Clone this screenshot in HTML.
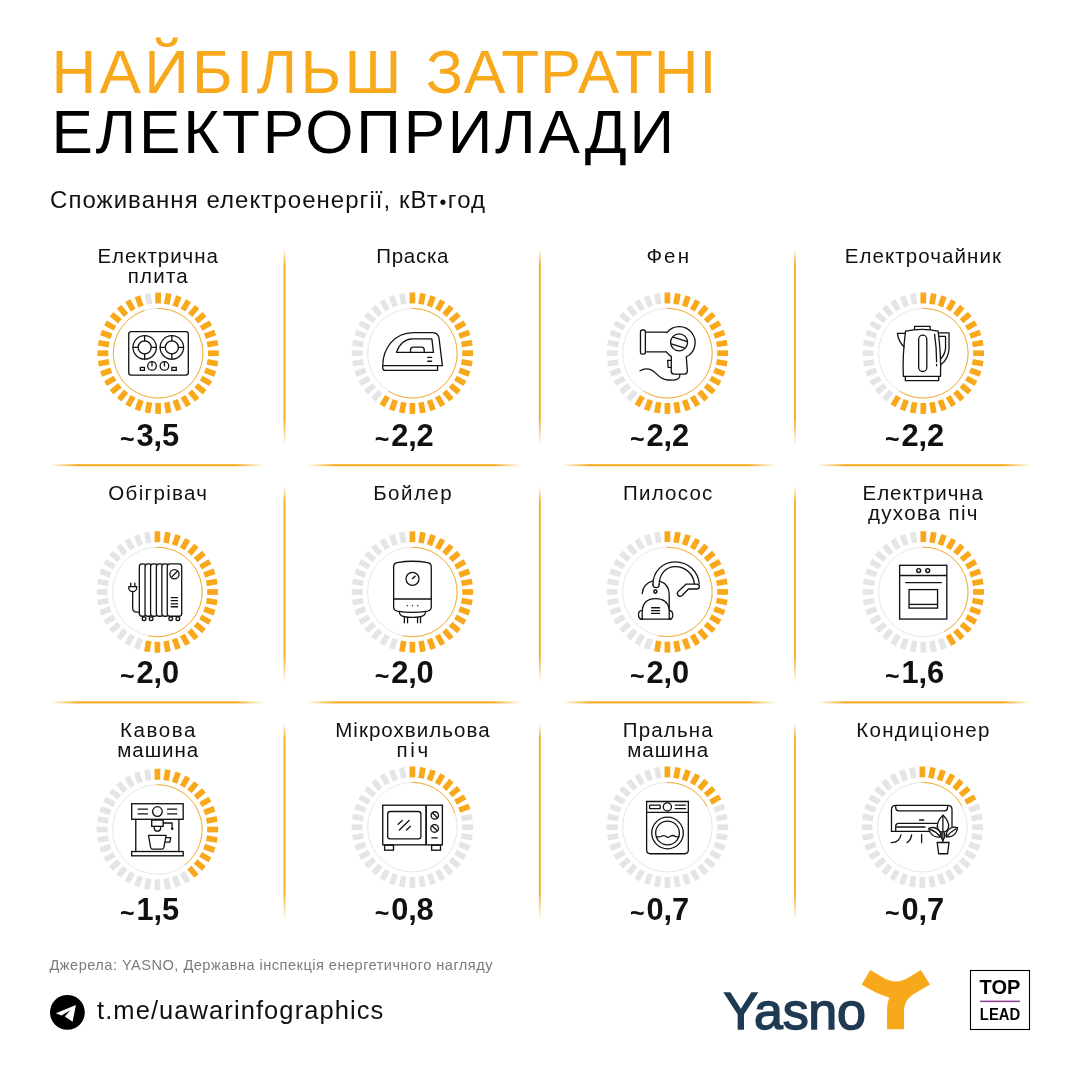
<!DOCTYPE html>
<html lang="uk"><head><meta charset="utf-8"><title>Найбільш затратні електроприлади</title>
<style>
html,body{margin:0;padding:0;background:#fff}
body{width:1080px;height:1080px;position:relative;overflow:hidden;font-family:"Liberation Sans",sans-serif;color:#111}
.t{position:absolute;white-space:nowrap;line-height:1}
.h1{left:51.5px;font-size:62px;letter-spacing:2.3px}
.sub{left:50px;top:188.3px;font-size:24px;letter-spacing:1.05px}
.lb{position:absolute;width:240px;text-align:center;font-size:20.5px;line-height:20px;letter-spacing:1px;white-space:nowrap}
.v{position:absolute;width:120px;text-align:center;font-weight:700;font-size:30.8px;line-height:30px;letter-spacing:-0.1px}
.v i{position:absolute;font-style:normal;font-size:25px;left:22.3px;top:3.2px;letter-spacing:0}
.src{left:49.5px;top:957.5px;font-size:14.6px;color:#7c7c7c;letter-spacing:0.47px}
.tg{left:97px;top:998px;font-size:25.5px;letter-spacing:1.08px;color:#111}
.ya{left:723.5px;top:985px;font-size:52px;font-weight:400;color:#1f3a52;letter-spacing:-0.3px;-webkit-text-stroke:1.5px #1f3a52}
.tl{position:absolute;left:970px;width:60px;text-align:center;font-weight:700;line-height:1;color:#000}
</style></head><body>

<svg width="1080" height="1080" viewBox="0 0 1080 1080" style="position:absolute;left:0;top:0">
<defs>
<linearGradient id="gv" x1="0" y1="0" x2="0" y2="1"><stop offset="0" stop-color="#f8a81b" stop-opacity="0"/><stop offset="0.08" stop-color="#f8a81b"/><stop offset="0.86" stop-color="#f8a81b"/><stop offset="1" stop-color="#f8a81b" stop-opacity="0"/></linearGradient>
<linearGradient id="gh" x1="0" y1="0" x2="1" y2="0"><stop offset="0" stop-color="#f8a81b" stop-opacity="0"/><stop offset="0.13" stop-color="#f8a81b"/><stop offset="0.87" stop-color="#f8a81b"/><stop offset="1" stop-color="#f8a81b" stop-opacity="0"/></linearGradient>
</defs>
<rect x="283.6" y="249" width="1.8" height="197" fill="url(#gv)"/>
<rect x="283.6" y="486" width="1.8" height="197" fill="url(#gv)"/>
<rect x="283.6" y="723" width="1.8" height="197" fill="url(#gv)"/>
<rect x="538.9" y="249" width="1.8" height="197" fill="url(#gv)"/>
<rect x="538.9" y="486" width="1.8" height="197" fill="url(#gv)"/>
<rect x="538.9" y="723" width="1.8" height="197" fill="url(#gv)"/>
<rect x="794.1" y="249" width="1.8" height="197" fill="url(#gv)"/>
<rect x="794.1" y="486" width="1.8" height="197" fill="url(#gv)"/>
<rect x="794.1" y="723" width="1.8" height="197" fill="url(#gv)"/>
<rect x="50" y="464.2" width="214" height="2" fill="url(#gh)"/>
<rect x="307" y="464.2" width="214" height="2" fill="url(#gh)"/>
<rect x="562" y="464.2" width="214" height="2" fill="url(#gh)"/>
<rect x="817" y="464.2" width="214" height="2" fill="url(#gh)"/>
<rect x="50" y="701.4" width="214" height="2" fill="url(#gh)"/>
<rect x="307" y="701.4" width="214" height="2" fill="url(#gh)"/>
<rect x="562" y="701.4" width="214" height="2" fill="url(#gh)"/>
<rect x="817" y="701.4" width="214" height="2" fill="url(#gh)"/>
<rect x="155.25" y="292.55" width="5.7" height="10.90" fill="#f8a81b" transform="rotate(0 158.1 353.25)"/>
<rect x="155.25" y="292.55" width="5.7" height="10.90" fill="#f8a81b" transform="rotate(10 158.1 353.25)"/>
<rect x="155.25" y="292.55" width="5.7" height="10.90" fill="#f8a81b" transform="rotate(20 158.1 353.25)"/>
<rect x="155.25" y="292.55" width="5.7" height="10.90" fill="#f8a81b" transform="rotate(30 158.1 353.25)"/>
<rect x="155.25" y="292.55" width="5.7" height="10.90" fill="#f8a81b" transform="rotate(40 158.1 353.25)"/>
<rect x="155.25" y="292.55" width="5.7" height="10.90" fill="#f8a81b" transform="rotate(50 158.1 353.25)"/>
<rect x="155.25" y="292.55" width="5.7" height="10.90" fill="#f8a81b" transform="rotate(60 158.1 353.25)"/>
<rect x="155.25" y="292.55" width="5.7" height="10.90" fill="#f8a81b" transform="rotate(70 158.1 353.25)"/>
<rect x="155.25" y="292.55" width="5.7" height="10.90" fill="#f8a81b" transform="rotate(80 158.1 353.25)"/>
<rect x="155.25" y="292.55" width="5.7" height="10.90" fill="#f8a81b" transform="rotate(90 158.1 353.25)"/>
<rect x="155.25" y="292.55" width="5.7" height="10.90" fill="#f8a81b" transform="rotate(100 158.1 353.25)"/>
<rect x="155.25" y="292.55" width="5.7" height="10.90" fill="#f8a81b" transform="rotate(110 158.1 353.25)"/>
<rect x="155.25" y="292.55" width="5.7" height="10.90" fill="#f8a81b" transform="rotate(120 158.1 353.25)"/>
<rect x="155.25" y="292.55" width="5.7" height="10.90" fill="#f8a81b" transform="rotate(130 158.1 353.25)"/>
<rect x="155.25" y="292.55" width="5.7" height="10.90" fill="#f8a81b" transform="rotate(140 158.1 353.25)"/>
<rect x="155.25" y="292.55" width="5.7" height="10.90" fill="#f8a81b" transform="rotate(150 158.1 353.25)"/>
<rect x="155.25" y="292.55" width="5.7" height="10.90" fill="#f8a81b" transform="rotate(160 158.1 353.25)"/>
<rect x="155.25" y="292.55" width="5.7" height="10.90" fill="#f8a81b" transform="rotate(170 158.1 353.25)"/>
<rect x="155.25" y="292.55" width="5.7" height="10.90" fill="#f8a81b" transform="rotate(180 158.1 353.25)"/>
<rect x="155.25" y="292.55" width="5.7" height="10.90" fill="#f8a81b" transform="rotate(190 158.1 353.25)"/>
<rect x="155.25" y="292.55" width="5.7" height="10.90" fill="#f8a81b" transform="rotate(200 158.1 353.25)"/>
<rect x="155.25" y="292.55" width="5.7" height="10.90" fill="#f8a81b" transform="rotate(210 158.1 353.25)"/>
<rect x="155.25" y="292.55" width="5.7" height="10.90" fill="#f8a81b" transform="rotate(220 158.1 353.25)"/>
<rect x="155.25" y="292.55" width="5.7" height="10.90" fill="#f8a81b" transform="rotate(230 158.1 353.25)"/>
<rect x="155.25" y="292.55" width="5.7" height="10.90" fill="#f8a81b" transform="rotate(240 158.1 353.25)"/>
<rect x="155.25" y="292.55" width="5.7" height="10.90" fill="#f8a81b" transform="rotate(250 158.1 353.25)"/>
<rect x="155.25" y="292.55" width="5.7" height="10.90" fill="#f8a81b" transform="rotate(260 158.1 353.25)"/>
<rect x="155.25" y="292.55" width="5.7" height="10.90" fill="#f8a81b" transform="rotate(270 158.1 353.25)"/>
<rect x="155.25" y="292.55" width="5.7" height="10.90" fill="#f8a81b" transform="rotate(280 158.1 353.25)"/>
<rect x="155.25" y="292.55" width="5.7" height="10.90" fill="#f8a81b" transform="rotate(290 158.1 353.25)"/>
<rect x="155.25" y="292.55" width="5.7" height="10.90" fill="#f8a81b" transform="rotate(300 158.1 353.25)"/>
<rect x="155.25" y="292.55" width="5.7" height="10.90" fill="#f8a81b" transform="rotate(310 158.1 353.25)"/>
<rect x="155.25" y="292.55" width="5.7" height="10.90" fill="#f8a81b" transform="rotate(320 158.1 353.25)"/>
<rect x="155.25" y="292.55" width="5.7" height="10.90" fill="#f8a81b" transform="rotate(330 158.1 353.25)"/>
<rect x="155.25" y="292.55" width="5.7" height="10.90" fill="#f8a81b" transform="rotate(340 158.1 353.25)"/>
<rect x="155.25" y="292.55" width="5.7" height="10.90" fill="#e5e5e5" transform="rotate(350 158.1 353.25)"/>
<circle cx="158.1" cy="353.25" r="44.8" fill="none" stroke="#e3e3e3" stroke-width="0.9"/>
<path d="M157.32,308.46 A44.8,44.8 0 1 1 144.26,310.64" fill="none" stroke="#f8a81b" stroke-width="0.9"/>
<svg x="120" y="320" width="80" height="70" viewBox="0 0 1080 945" fill="none" stroke="#111" stroke-width="17.5" stroke-linecap="round" stroke-linejoin="round"><!-- stove -->
<rect x="118" y="158" width="804" height="585" rx="35"/>
<circle cx="333" cy="370" r="158"/><circle cx="333" cy="370" r="88"/>
<path d="M333,212V282M333,458V528M175,370H245M421,370H491"/>
<circle cx="700" cy="370" r="158"/><circle cx="700" cy="370" r="88"/>
<path d="M700,212V282M700,458V528M542,370H612M788,370H858"/>
<circle cx="432" cy="620" r="58"/><circle cx="600" cy="620" r="58"/>
<path d="M432,570V620M600,570V620"/>
<rect x="275" y="640" width="55" height="40" stroke-linejoin="miter"/><rect x="700" y="640" width="60" height="40" stroke-linejoin="miter"/>
</svg>
<rect x="409.55" y="292.50" width="5.7" height="10.90" fill="#f8a81b" transform="rotate(0 412.4 353.2)"/>
<rect x="409.55" y="292.50" width="5.7" height="10.90" fill="#f8a81b" transform="rotate(10 412.4 353.2)"/>
<rect x="409.55" y="292.50" width="5.7" height="10.90" fill="#f8a81b" transform="rotate(20 412.4 353.2)"/>
<rect x="409.55" y="292.50" width="5.7" height="10.90" fill="#f8a81b" transform="rotate(30 412.4 353.2)"/>
<rect x="409.55" y="292.50" width="5.7" height="10.90" fill="#f8a81b" transform="rotate(40 412.4 353.2)"/>
<rect x="409.55" y="292.50" width="5.7" height="10.90" fill="#f8a81b" transform="rotate(50 412.4 353.2)"/>
<rect x="409.55" y="292.50" width="5.7" height="10.90" fill="#f8a81b" transform="rotate(60 412.4 353.2)"/>
<rect x="409.55" y="292.50" width="5.7" height="10.90" fill="#f8a81b" transform="rotate(70 412.4 353.2)"/>
<rect x="409.55" y="292.50" width="5.7" height="10.90" fill="#f8a81b" transform="rotate(80 412.4 353.2)"/>
<rect x="409.55" y="292.50" width="5.7" height="10.90" fill="#f8a81b" transform="rotate(90 412.4 353.2)"/>
<rect x="409.55" y="292.50" width="5.7" height="10.90" fill="#f8a81b" transform="rotate(100 412.4 353.2)"/>
<rect x="409.55" y="292.50" width="5.7" height="10.90" fill="#f8a81b" transform="rotate(110 412.4 353.2)"/>
<rect x="409.55" y="292.50" width="5.7" height="10.90" fill="#f8a81b" transform="rotate(120 412.4 353.2)"/>
<rect x="409.55" y="292.50" width="5.7" height="10.90" fill="#f8a81b" transform="rotate(130 412.4 353.2)"/>
<rect x="409.55" y="292.50" width="5.7" height="10.90" fill="#f8a81b" transform="rotate(140 412.4 353.2)"/>
<rect x="409.55" y="292.50" width="5.7" height="10.90" fill="#f8a81b" transform="rotate(150 412.4 353.2)"/>
<rect x="409.55" y="292.50" width="5.7" height="10.90" fill="#f8a81b" transform="rotate(160 412.4 353.2)"/>
<rect x="409.55" y="292.50" width="5.7" height="10.90" fill="#f8a81b" transform="rotate(170 412.4 353.2)"/>
<rect x="409.55" y="292.50" width="5.7" height="10.90" fill="#f8a81b" transform="rotate(180 412.4 353.2)"/>
<rect x="409.55" y="292.50" width="5.7" height="10.90" fill="#f8a81b" transform="rotate(190 412.4 353.2)"/>
<rect x="409.55" y="292.50" width="5.7" height="10.90" fill="#f8a81b" transform="rotate(200 412.4 353.2)"/>
<rect x="409.55" y="292.50" width="5.7" height="10.90" fill="#f8a81b" transform="rotate(210 412.4 353.2)"/>
<rect x="409.55" y="292.50" width="5.7" height="10.90" fill="#e5e5e5" transform="rotate(220 412.4 353.2)"/>
<rect x="409.55" y="292.50" width="5.7" height="10.90" fill="#e5e5e5" transform="rotate(230 412.4 353.2)"/>
<rect x="409.55" y="292.50" width="5.7" height="10.90" fill="#e5e5e5" transform="rotate(240 412.4 353.2)"/>
<rect x="409.55" y="292.50" width="5.7" height="10.90" fill="#e5e5e5" transform="rotate(250 412.4 353.2)"/>
<rect x="409.55" y="292.50" width="5.7" height="10.90" fill="#e5e5e5" transform="rotate(260 412.4 353.2)"/>
<rect x="409.55" y="292.50" width="5.7" height="10.90" fill="#e5e5e5" transform="rotate(270 412.4 353.2)"/>
<rect x="409.55" y="292.50" width="5.7" height="10.90" fill="#e5e5e5" transform="rotate(280 412.4 353.2)"/>
<rect x="409.55" y="292.50" width="5.7" height="10.90" fill="#e5e5e5" transform="rotate(290 412.4 353.2)"/>
<rect x="409.55" y="292.50" width="5.7" height="10.90" fill="#e5e5e5" transform="rotate(300 412.4 353.2)"/>
<rect x="409.55" y="292.50" width="5.7" height="10.90" fill="#e5e5e5" transform="rotate(310 412.4 353.2)"/>
<rect x="409.55" y="292.50" width="5.7" height="10.90" fill="#e5e5e5" transform="rotate(320 412.4 353.2)"/>
<rect x="409.55" y="292.50" width="5.7" height="10.90" fill="#e5e5e5" transform="rotate(330 412.4 353.2)"/>
<rect x="409.55" y="292.50" width="5.7" height="10.90" fill="#e5e5e5" transform="rotate(340 412.4 353.2)"/>
<rect x="409.55" y="292.50" width="5.7" height="10.90" fill="#e5e5e5" transform="rotate(350 412.4 353.2)"/>
<circle cx="412.4" cy="353.2" r="44.8" fill="none" stroke="#e3e3e3" stroke-width="0.9"/>
<path d="M411.62,308.41 A44.8,44.8 0 1 1 388.66,391.19" fill="none" stroke="#f8a81b" stroke-width="0.9"/>
<svg x="372" y="320" width="80" height="70" viewBox="0 0 1080 945" fill="none" stroke="#111" stroke-width="17.5" stroke-linecap="round" stroke-linejoin="round">
<!-- iron -->
<path d="M145,612 C148,390 290,172 560,170 H820 Q895,175 905,245 L950,615 H145 V650 Q148,680 175,680 H885 V618"/>
<path d="M330,437 Q390,262 545,255 H808 L830,437 Z"/>
<path d="M520,435 V400 Q522,365 555,365 H670 Q703,365 705,400 V435"/>
<path d="M752,505H805M752,557H805"/>
</svg>
<rect x="664.55" y="292.50" width="5.7" height="10.90" fill="#f8a81b" transform="rotate(0 667.4 353.2)"/>
<rect x="664.55" y="292.50" width="5.7" height="10.90" fill="#f8a81b" transform="rotate(10 667.4 353.2)"/>
<rect x="664.55" y="292.50" width="5.7" height="10.90" fill="#f8a81b" transform="rotate(20 667.4 353.2)"/>
<rect x="664.55" y="292.50" width="5.7" height="10.90" fill="#f8a81b" transform="rotate(30 667.4 353.2)"/>
<rect x="664.55" y="292.50" width="5.7" height="10.90" fill="#f8a81b" transform="rotate(40 667.4 353.2)"/>
<rect x="664.55" y="292.50" width="5.7" height="10.90" fill="#f8a81b" transform="rotate(50 667.4 353.2)"/>
<rect x="664.55" y="292.50" width="5.7" height="10.90" fill="#f8a81b" transform="rotate(60 667.4 353.2)"/>
<rect x="664.55" y="292.50" width="5.7" height="10.90" fill="#f8a81b" transform="rotate(70 667.4 353.2)"/>
<rect x="664.55" y="292.50" width="5.7" height="10.90" fill="#f8a81b" transform="rotate(80 667.4 353.2)"/>
<rect x="664.55" y="292.50" width="5.7" height="10.90" fill="#f8a81b" transform="rotate(90 667.4 353.2)"/>
<rect x="664.55" y="292.50" width="5.7" height="10.90" fill="#f8a81b" transform="rotate(100 667.4 353.2)"/>
<rect x="664.55" y="292.50" width="5.7" height="10.90" fill="#f8a81b" transform="rotate(110 667.4 353.2)"/>
<rect x="664.55" y="292.50" width="5.7" height="10.90" fill="#f8a81b" transform="rotate(120 667.4 353.2)"/>
<rect x="664.55" y="292.50" width="5.7" height="10.90" fill="#f8a81b" transform="rotate(130 667.4 353.2)"/>
<rect x="664.55" y="292.50" width="5.7" height="10.90" fill="#f8a81b" transform="rotate(140 667.4 353.2)"/>
<rect x="664.55" y="292.50" width="5.7" height="10.90" fill="#f8a81b" transform="rotate(150 667.4 353.2)"/>
<rect x="664.55" y="292.50" width="5.7" height="10.90" fill="#f8a81b" transform="rotate(160 667.4 353.2)"/>
<rect x="664.55" y="292.50" width="5.7" height="10.90" fill="#f8a81b" transform="rotate(170 667.4 353.2)"/>
<rect x="664.55" y="292.50" width="5.7" height="10.90" fill="#f8a81b" transform="rotate(180 667.4 353.2)"/>
<rect x="664.55" y="292.50" width="5.7" height="10.90" fill="#f8a81b" transform="rotate(190 667.4 353.2)"/>
<rect x="664.55" y="292.50" width="5.7" height="10.90" fill="#f8a81b" transform="rotate(200 667.4 353.2)"/>
<rect x="664.55" y="292.50" width="5.7" height="10.90" fill="#f8a81b" transform="rotate(210 667.4 353.2)"/>
<rect x="664.55" y="292.50" width="5.7" height="10.90" fill="#e5e5e5" transform="rotate(220 667.4 353.2)"/>
<rect x="664.55" y="292.50" width="5.7" height="10.90" fill="#e5e5e5" transform="rotate(230 667.4 353.2)"/>
<rect x="664.55" y="292.50" width="5.7" height="10.90" fill="#e5e5e5" transform="rotate(240 667.4 353.2)"/>
<rect x="664.55" y="292.50" width="5.7" height="10.90" fill="#e5e5e5" transform="rotate(250 667.4 353.2)"/>
<rect x="664.55" y="292.50" width="5.7" height="10.90" fill="#e5e5e5" transform="rotate(260 667.4 353.2)"/>
<rect x="664.55" y="292.50" width="5.7" height="10.90" fill="#e5e5e5" transform="rotate(270 667.4 353.2)"/>
<rect x="664.55" y="292.50" width="5.7" height="10.90" fill="#e5e5e5" transform="rotate(280 667.4 353.2)"/>
<rect x="664.55" y="292.50" width="5.7" height="10.90" fill="#e5e5e5" transform="rotate(290 667.4 353.2)"/>
<rect x="664.55" y="292.50" width="5.7" height="10.90" fill="#e5e5e5" transform="rotate(300 667.4 353.2)"/>
<rect x="664.55" y="292.50" width="5.7" height="10.90" fill="#e5e5e5" transform="rotate(310 667.4 353.2)"/>
<rect x="664.55" y="292.50" width="5.7" height="10.90" fill="#e5e5e5" transform="rotate(320 667.4 353.2)"/>
<rect x="664.55" y="292.50" width="5.7" height="10.90" fill="#e5e5e5" transform="rotate(330 667.4 353.2)"/>
<rect x="664.55" y="292.50" width="5.7" height="10.90" fill="#e5e5e5" transform="rotate(340 667.4 353.2)"/>
<rect x="664.55" y="292.50" width="5.7" height="10.90" fill="#e5e5e5" transform="rotate(350 667.4 353.2)"/>
<circle cx="667.4" cy="353.2" r="44.8" fill="none" stroke="#e3e3e3" stroke-width="0.9"/>
<path d="M666.62,308.41 A44.8,44.8 0 1 1 643.66,391.19" fill="none" stroke="#f8a81b" stroke-width="0.9"/>
<svg x="627" y="320" width="80" height="70" viewBox="0 0 1080 945" fill="none" stroke="#111" stroke-width="17.5" stroke-linecap="round" stroke-linejoin="round">
<!-- hair dryer -->
<rect x="182" y="135" width="66" height="325" rx="25"/>
<path d="M258,165 H520 L537.7,170 A215,215 0 1 1 800,498 L815,690 Q815,730 775,730 H635 Q598,730 597,690 L598,491.5 A215,215 0 0 1 528,427 L520,430 H262"/>
<circle cx="703" cy="302" r="115"/>
<path d="M622,232L805,290M598,322L772,376"/>
<path d="M598,545 H548 L556,640 H598"/>
<path d="M175,685 C260,635 325,650 400,730 S540,812 620,812 C690,805 718,785 713,737"/>
</svg>
<rect x="920.45" y="292.50" width="5.7" height="10.90" fill="#f8a81b" transform="rotate(0 923.3 353.2)"/>
<rect x="920.45" y="292.50" width="5.7" height="10.90" fill="#f8a81b" transform="rotate(10 923.3 353.2)"/>
<rect x="920.45" y="292.50" width="5.7" height="10.90" fill="#f8a81b" transform="rotate(20 923.3 353.2)"/>
<rect x="920.45" y="292.50" width="5.7" height="10.90" fill="#f8a81b" transform="rotate(30 923.3 353.2)"/>
<rect x="920.45" y="292.50" width="5.7" height="10.90" fill="#f8a81b" transform="rotate(40 923.3 353.2)"/>
<rect x="920.45" y="292.50" width="5.7" height="10.90" fill="#f8a81b" transform="rotate(50 923.3 353.2)"/>
<rect x="920.45" y="292.50" width="5.7" height="10.90" fill="#f8a81b" transform="rotate(60 923.3 353.2)"/>
<rect x="920.45" y="292.50" width="5.7" height="10.90" fill="#f8a81b" transform="rotate(70 923.3 353.2)"/>
<rect x="920.45" y="292.50" width="5.7" height="10.90" fill="#f8a81b" transform="rotate(80 923.3 353.2)"/>
<rect x="920.45" y="292.50" width="5.7" height="10.90" fill="#f8a81b" transform="rotate(90 923.3 353.2)"/>
<rect x="920.45" y="292.50" width="5.7" height="10.90" fill="#f8a81b" transform="rotate(100 923.3 353.2)"/>
<rect x="920.45" y="292.50" width="5.7" height="10.90" fill="#f8a81b" transform="rotate(110 923.3 353.2)"/>
<rect x="920.45" y="292.50" width="5.7" height="10.90" fill="#f8a81b" transform="rotate(120 923.3 353.2)"/>
<rect x="920.45" y="292.50" width="5.7" height="10.90" fill="#f8a81b" transform="rotate(130 923.3 353.2)"/>
<rect x="920.45" y="292.50" width="5.7" height="10.90" fill="#f8a81b" transform="rotate(140 923.3 353.2)"/>
<rect x="920.45" y="292.50" width="5.7" height="10.90" fill="#f8a81b" transform="rotate(150 923.3 353.2)"/>
<rect x="920.45" y="292.50" width="5.7" height="10.90" fill="#f8a81b" transform="rotate(160 923.3 353.2)"/>
<rect x="920.45" y="292.50" width="5.7" height="10.90" fill="#f8a81b" transform="rotate(170 923.3 353.2)"/>
<rect x="920.45" y="292.50" width="5.7" height="10.90" fill="#f8a81b" transform="rotate(180 923.3 353.2)"/>
<rect x="920.45" y="292.50" width="5.7" height="10.90" fill="#f8a81b" transform="rotate(190 923.3 353.2)"/>
<rect x="920.45" y="292.50" width="5.7" height="10.90" fill="#f8a81b" transform="rotate(200 923.3 353.2)"/>
<rect x="920.45" y="292.50" width="5.7" height="10.90" fill="#f8a81b" transform="rotate(210 923.3 353.2)"/>
<rect x="920.45" y="292.50" width="5.7" height="10.90" fill="#e5e5e5" transform="rotate(220 923.3 353.2)"/>
<rect x="920.45" y="292.50" width="5.7" height="10.90" fill="#e5e5e5" transform="rotate(230 923.3 353.2)"/>
<rect x="920.45" y="292.50" width="5.7" height="10.90" fill="#e5e5e5" transform="rotate(240 923.3 353.2)"/>
<rect x="920.45" y="292.50" width="5.7" height="10.90" fill="#e5e5e5" transform="rotate(250 923.3 353.2)"/>
<rect x="920.45" y="292.50" width="5.7" height="10.90" fill="#e5e5e5" transform="rotate(260 923.3 353.2)"/>
<rect x="920.45" y="292.50" width="5.7" height="10.90" fill="#e5e5e5" transform="rotate(270 923.3 353.2)"/>
<rect x="920.45" y="292.50" width="5.7" height="10.90" fill="#e5e5e5" transform="rotate(280 923.3 353.2)"/>
<rect x="920.45" y="292.50" width="5.7" height="10.90" fill="#e5e5e5" transform="rotate(290 923.3 353.2)"/>
<rect x="920.45" y="292.50" width="5.7" height="10.90" fill="#e5e5e5" transform="rotate(300 923.3 353.2)"/>
<rect x="920.45" y="292.50" width="5.7" height="10.90" fill="#e5e5e5" transform="rotate(310 923.3 353.2)"/>
<rect x="920.45" y="292.50" width="5.7" height="10.90" fill="#e5e5e5" transform="rotate(320 923.3 353.2)"/>
<rect x="920.45" y="292.50" width="5.7" height="10.90" fill="#e5e5e5" transform="rotate(330 923.3 353.2)"/>
<rect x="920.45" y="292.50" width="5.7" height="10.90" fill="#e5e5e5" transform="rotate(340 923.3 353.2)"/>
<rect x="920.45" y="292.50" width="5.7" height="10.90" fill="#e5e5e5" transform="rotate(350 923.3 353.2)"/>
<circle cx="923.3" cy="353.2" r="44.8" fill="none" stroke="#e3e3e3" stroke-width="0.9"/>
<path d="M922.52,308.41 A44.8,44.8 0 1 1 899.56,391.19" fill="none" stroke="#f8a81b" stroke-width="0.9"/>
<svg x="882" y="320" width="80" height="70" viewBox="0 0 1080 945" fill="none" stroke="#111" stroke-width="17.5" stroke-linecap="round" stroke-linejoin="round">
<!-- kettle -->
<path d="M318,150 Q540,105 758,150 Q800,480 790,760 H288 Q275,480 318,150 Z"/>
<path d="M440,125 V85 H650 V125"/>
<path d="M315,765 V818 H765 V765"/>
<path d="M312,180 H208 Q225,295 298,362"/>
<path d="M772,175 H905 V380 Q900,520 797,600"/>
<path d="M776,222 H858 V380 Q852,460 797,520"/>
<rect x="495" y="205" width="110" height="490" rx="55"/>
<path d="M710,195 Q737,370 737,565M737,600V618"/>
</svg>
<rect x="154.55" y="531.30" width="5.7" height="10.90" fill="#f8a81b" transform="rotate(0 157.4 592.0)"/>
<rect x="154.55" y="531.30" width="5.7" height="10.90" fill="#f8a81b" transform="rotate(10 157.4 592.0)"/>
<rect x="154.55" y="531.30" width="5.7" height="10.90" fill="#f8a81b" transform="rotate(20 157.4 592.0)"/>
<rect x="154.55" y="531.30" width="5.7" height="10.90" fill="#f8a81b" transform="rotate(30 157.4 592.0)"/>
<rect x="154.55" y="531.30" width="5.7" height="10.90" fill="#f8a81b" transform="rotate(40 157.4 592.0)"/>
<rect x="154.55" y="531.30" width="5.7" height="10.90" fill="#f8a81b" transform="rotate(50 157.4 592.0)"/>
<rect x="154.55" y="531.30" width="5.7" height="10.90" fill="#f8a81b" transform="rotate(60 157.4 592.0)"/>
<rect x="154.55" y="531.30" width="5.7" height="10.90" fill="#f8a81b" transform="rotate(70 157.4 592.0)"/>
<rect x="154.55" y="531.30" width="5.7" height="10.90" fill="#f8a81b" transform="rotate(80 157.4 592.0)"/>
<rect x="154.55" y="531.30" width="5.7" height="10.90" fill="#f8a81b" transform="rotate(90 157.4 592.0)"/>
<rect x="154.55" y="531.30" width="5.7" height="10.90" fill="#f8a81b" transform="rotate(100 157.4 592.0)"/>
<rect x="154.55" y="531.30" width="5.7" height="10.90" fill="#f8a81b" transform="rotate(110 157.4 592.0)"/>
<rect x="154.55" y="531.30" width="5.7" height="10.90" fill="#f8a81b" transform="rotate(120 157.4 592.0)"/>
<rect x="154.55" y="531.30" width="5.7" height="10.90" fill="#f8a81b" transform="rotate(130 157.4 592.0)"/>
<rect x="154.55" y="531.30" width="5.7" height="10.90" fill="#f8a81b" transform="rotate(140 157.4 592.0)"/>
<rect x="154.55" y="531.30" width="5.7" height="10.90" fill="#f8a81b" transform="rotate(150 157.4 592.0)"/>
<rect x="154.55" y="531.30" width="5.7" height="10.90" fill="#f8a81b" transform="rotate(160 157.4 592.0)"/>
<rect x="154.55" y="531.30" width="5.7" height="10.90" fill="#f8a81b" transform="rotate(170 157.4 592.0)"/>
<rect x="154.55" y="531.30" width="5.7" height="10.90" fill="#f8a81b" transform="rotate(180 157.4 592.0)"/>
<rect x="154.55" y="531.30" width="5.7" height="10.90" fill="#f8a81b" transform="rotate(190 157.4 592.0)"/>
<rect x="154.55" y="531.30" width="5.7" height="10.90" fill="#e5e5e5" transform="rotate(200 157.4 592.0)"/>
<rect x="154.55" y="531.30" width="5.7" height="10.90" fill="#e5e5e5" transform="rotate(210 157.4 592.0)"/>
<rect x="154.55" y="531.30" width="5.7" height="10.90" fill="#e5e5e5" transform="rotate(220 157.4 592.0)"/>
<rect x="154.55" y="531.30" width="5.7" height="10.90" fill="#e5e5e5" transform="rotate(230 157.4 592.0)"/>
<rect x="154.55" y="531.30" width="5.7" height="10.90" fill="#e5e5e5" transform="rotate(240 157.4 592.0)"/>
<rect x="154.55" y="531.30" width="5.7" height="10.90" fill="#e5e5e5" transform="rotate(250 157.4 592.0)"/>
<rect x="154.55" y="531.30" width="5.7" height="10.90" fill="#e5e5e5" transform="rotate(260 157.4 592.0)"/>
<rect x="154.55" y="531.30" width="5.7" height="10.90" fill="#e5e5e5" transform="rotate(270 157.4 592.0)"/>
<rect x="154.55" y="531.30" width="5.7" height="10.90" fill="#e5e5e5" transform="rotate(280 157.4 592.0)"/>
<rect x="154.55" y="531.30" width="5.7" height="10.90" fill="#e5e5e5" transform="rotate(290 157.4 592.0)"/>
<rect x="154.55" y="531.30" width="5.7" height="10.90" fill="#e5e5e5" transform="rotate(300 157.4 592.0)"/>
<rect x="154.55" y="531.30" width="5.7" height="10.90" fill="#e5e5e5" transform="rotate(310 157.4 592.0)"/>
<rect x="154.55" y="531.30" width="5.7" height="10.90" fill="#e5e5e5" transform="rotate(320 157.4 592.0)"/>
<rect x="154.55" y="531.30" width="5.7" height="10.90" fill="#e5e5e5" transform="rotate(330 157.4 592.0)"/>
<rect x="154.55" y="531.30" width="5.7" height="10.90" fill="#e5e5e5" transform="rotate(340 157.4 592.0)"/>
<rect x="154.55" y="531.30" width="5.7" height="10.90" fill="#e5e5e5" transform="rotate(350 157.4 592.0)"/>
<circle cx="157.4" cy="592.0" r="44.8" fill="none" stroke="#e3e3e3" stroke-width="0.9"/>
<path d="M156.62,547.21 A44.8,44.8 0 1 1 148.09,635.82" fill="none" stroke="#f8a81b" stroke-width="0.9"/>
<svg x="118" y="557" width="80" height="70" viewBox="0 0 1080 945" fill="none" stroke="#111" stroke-width="17.5" stroke-linecap="round" stroke-linejoin="round">
<!-- heater -->
<g fill="#fff">
<rect x="288" y="92" width="90" height="708" rx="38"/>
<rect x="365" y="92" width="90" height="708" rx="38"/>
<rect x="440" y="92" width="90" height="708" rx="38"/>
<rect x="518" y="92" width="90" height="708" rx="38"/>
<rect x="592" y="92" width="90" height="708" rx="38"/>
<rect x="665" y="92" width="195" height="708" rx="38"/>
</g>
<circle cx="762" cy="232" r="62"/><path d="M720,275L805,190"/>
<path d="M712,548H810M712,590H810M712,632H810M712,672H810" stroke-width="18" stroke-linecap="butt"/>
<circle cx="352" cy="832" r="25"/><circle cx="447" cy="832" r="25"/><circle cx="712" cy="832" r="25"/><circle cx="808" cy="832" r="25"/>
<path d="M172,352V398M228,352V398"/>
<path d="M145,400 H252 V415 A53.5,53.5 0 0 1 145,415 Z"/>
<path d="M198,470 V690 Q198,745 255,745 H286"/>
</svg>
<rect x="409.55" y="531.30" width="5.7" height="10.90" fill="#f8a81b" transform="rotate(0 412.4 592.0)"/>
<rect x="409.55" y="531.30" width="5.7" height="10.90" fill="#f8a81b" transform="rotate(10 412.4 592.0)"/>
<rect x="409.55" y="531.30" width="5.7" height="10.90" fill="#f8a81b" transform="rotate(20 412.4 592.0)"/>
<rect x="409.55" y="531.30" width="5.7" height="10.90" fill="#f8a81b" transform="rotate(30 412.4 592.0)"/>
<rect x="409.55" y="531.30" width="5.7" height="10.90" fill="#f8a81b" transform="rotate(40 412.4 592.0)"/>
<rect x="409.55" y="531.30" width="5.7" height="10.90" fill="#f8a81b" transform="rotate(50 412.4 592.0)"/>
<rect x="409.55" y="531.30" width="5.7" height="10.90" fill="#f8a81b" transform="rotate(60 412.4 592.0)"/>
<rect x="409.55" y="531.30" width="5.7" height="10.90" fill="#f8a81b" transform="rotate(70 412.4 592.0)"/>
<rect x="409.55" y="531.30" width="5.7" height="10.90" fill="#f8a81b" transform="rotate(80 412.4 592.0)"/>
<rect x="409.55" y="531.30" width="5.7" height="10.90" fill="#f8a81b" transform="rotate(90 412.4 592.0)"/>
<rect x="409.55" y="531.30" width="5.7" height="10.90" fill="#f8a81b" transform="rotate(100 412.4 592.0)"/>
<rect x="409.55" y="531.30" width="5.7" height="10.90" fill="#f8a81b" transform="rotate(110 412.4 592.0)"/>
<rect x="409.55" y="531.30" width="5.7" height="10.90" fill="#f8a81b" transform="rotate(120 412.4 592.0)"/>
<rect x="409.55" y="531.30" width="5.7" height="10.90" fill="#f8a81b" transform="rotate(130 412.4 592.0)"/>
<rect x="409.55" y="531.30" width="5.7" height="10.90" fill="#f8a81b" transform="rotate(140 412.4 592.0)"/>
<rect x="409.55" y="531.30" width="5.7" height="10.90" fill="#f8a81b" transform="rotate(150 412.4 592.0)"/>
<rect x="409.55" y="531.30" width="5.7" height="10.90" fill="#f8a81b" transform="rotate(160 412.4 592.0)"/>
<rect x="409.55" y="531.30" width="5.7" height="10.90" fill="#f8a81b" transform="rotate(170 412.4 592.0)"/>
<rect x="409.55" y="531.30" width="5.7" height="10.90" fill="#f8a81b" transform="rotate(180 412.4 592.0)"/>
<rect x="409.55" y="531.30" width="5.7" height="10.90" fill="#f8a81b" transform="rotate(190 412.4 592.0)"/>
<rect x="409.55" y="531.30" width="5.7" height="10.90" fill="#e5e5e5" transform="rotate(200 412.4 592.0)"/>
<rect x="409.55" y="531.30" width="5.7" height="10.90" fill="#e5e5e5" transform="rotate(210 412.4 592.0)"/>
<rect x="409.55" y="531.30" width="5.7" height="10.90" fill="#e5e5e5" transform="rotate(220 412.4 592.0)"/>
<rect x="409.55" y="531.30" width="5.7" height="10.90" fill="#e5e5e5" transform="rotate(230 412.4 592.0)"/>
<rect x="409.55" y="531.30" width="5.7" height="10.90" fill="#e5e5e5" transform="rotate(240 412.4 592.0)"/>
<rect x="409.55" y="531.30" width="5.7" height="10.90" fill="#e5e5e5" transform="rotate(250 412.4 592.0)"/>
<rect x="409.55" y="531.30" width="5.7" height="10.90" fill="#e5e5e5" transform="rotate(260 412.4 592.0)"/>
<rect x="409.55" y="531.30" width="5.7" height="10.90" fill="#e5e5e5" transform="rotate(270 412.4 592.0)"/>
<rect x="409.55" y="531.30" width="5.7" height="10.90" fill="#e5e5e5" transform="rotate(280 412.4 592.0)"/>
<rect x="409.55" y="531.30" width="5.7" height="10.90" fill="#e5e5e5" transform="rotate(290 412.4 592.0)"/>
<rect x="409.55" y="531.30" width="5.7" height="10.90" fill="#e5e5e5" transform="rotate(300 412.4 592.0)"/>
<rect x="409.55" y="531.30" width="5.7" height="10.90" fill="#e5e5e5" transform="rotate(310 412.4 592.0)"/>
<rect x="409.55" y="531.30" width="5.7" height="10.90" fill="#e5e5e5" transform="rotate(320 412.4 592.0)"/>
<rect x="409.55" y="531.30" width="5.7" height="10.90" fill="#e5e5e5" transform="rotate(330 412.4 592.0)"/>
<rect x="409.55" y="531.30" width="5.7" height="10.90" fill="#e5e5e5" transform="rotate(340 412.4 592.0)"/>
<rect x="409.55" y="531.30" width="5.7" height="10.90" fill="#e5e5e5" transform="rotate(350 412.4 592.0)"/>
<circle cx="412.4" cy="592.0" r="44.8" fill="none" stroke="#e3e3e3" stroke-width="0.9"/>
<path d="M411.62,547.21 A44.8,44.8 0 1 1 403.09,635.82" fill="none" stroke="#f8a81b" stroke-width="0.9"/>
<svg x="372" y="557" width="80" height="70" viewBox="0 0 1080 945" fill="none" stroke="#111" stroke-width="17.5" stroke-linecap="round" stroke-linejoin="round">
<!-- boiler -->
<path d="M292,130 Q292,85 340,75 Q545,40 750,75 Q800,85 800,130 V680 Q800,720 750,730 Q545,765 340,730 Q292,720 292,680 Z"/>
<path d="M292,568 H800" stroke-width="20"/>
<circle cx="547" cy="295" r="88"/>
<path d="M548,290L582,260" stroke-width="20"/>
<circle cx="477" cy="657" r="9.5" fill="#111" stroke="none"/><circle cx="547" cy="657" r="9.5" fill="#111" stroke="none"/><circle cx="617" cy="657" r="9.5" fill="#111" stroke="none"/>
<path d="M370,742 Q372,790 420,800 Q545,832 670,800 Q718,790 722,742"/>
<path d="M437,815V888M480,815V888M615,815V888M655,815V888"/>
</svg>
<rect x="664.55" y="531.20" width="5.7" height="10.90" fill="#f8a81b" transform="rotate(0 667.4 591.9)"/>
<rect x="664.55" y="531.20" width="5.7" height="10.90" fill="#f8a81b" transform="rotate(10 667.4 591.9)"/>
<rect x="664.55" y="531.20" width="5.7" height="10.90" fill="#f8a81b" transform="rotate(20 667.4 591.9)"/>
<rect x="664.55" y="531.20" width="5.7" height="10.90" fill="#f8a81b" transform="rotate(30 667.4 591.9)"/>
<rect x="664.55" y="531.20" width="5.7" height="10.90" fill="#f8a81b" transform="rotate(40 667.4 591.9)"/>
<rect x="664.55" y="531.20" width="5.7" height="10.90" fill="#f8a81b" transform="rotate(50 667.4 591.9)"/>
<rect x="664.55" y="531.20" width="5.7" height="10.90" fill="#f8a81b" transform="rotate(60 667.4 591.9)"/>
<rect x="664.55" y="531.20" width="5.7" height="10.90" fill="#f8a81b" transform="rotate(70 667.4 591.9)"/>
<rect x="664.55" y="531.20" width="5.7" height="10.90" fill="#f8a81b" transform="rotate(80 667.4 591.9)"/>
<rect x="664.55" y="531.20" width="5.7" height="10.90" fill="#f8a81b" transform="rotate(90 667.4 591.9)"/>
<rect x="664.55" y="531.20" width="5.7" height="10.90" fill="#f8a81b" transform="rotate(100 667.4 591.9)"/>
<rect x="664.55" y="531.20" width="5.7" height="10.90" fill="#f8a81b" transform="rotate(110 667.4 591.9)"/>
<rect x="664.55" y="531.20" width="5.7" height="10.90" fill="#f8a81b" transform="rotate(120 667.4 591.9)"/>
<rect x="664.55" y="531.20" width="5.7" height="10.90" fill="#f8a81b" transform="rotate(130 667.4 591.9)"/>
<rect x="664.55" y="531.20" width="5.7" height="10.90" fill="#f8a81b" transform="rotate(140 667.4 591.9)"/>
<rect x="664.55" y="531.20" width="5.7" height="10.90" fill="#f8a81b" transform="rotate(150 667.4 591.9)"/>
<rect x="664.55" y="531.20" width="5.7" height="10.90" fill="#f8a81b" transform="rotate(160 667.4 591.9)"/>
<rect x="664.55" y="531.20" width="5.7" height="10.90" fill="#f8a81b" transform="rotate(170 667.4 591.9)"/>
<rect x="664.55" y="531.20" width="5.7" height="10.90" fill="#f8a81b" transform="rotate(180 667.4 591.9)"/>
<rect x="664.55" y="531.20" width="5.7" height="10.90" fill="#f8a81b" transform="rotate(190 667.4 591.9)"/>
<rect x="664.55" y="531.20" width="5.7" height="10.90" fill="#e5e5e5" transform="rotate(200 667.4 591.9)"/>
<rect x="664.55" y="531.20" width="5.7" height="10.90" fill="#e5e5e5" transform="rotate(210 667.4 591.9)"/>
<rect x="664.55" y="531.20" width="5.7" height="10.90" fill="#e5e5e5" transform="rotate(220 667.4 591.9)"/>
<rect x="664.55" y="531.20" width="5.7" height="10.90" fill="#e5e5e5" transform="rotate(230 667.4 591.9)"/>
<rect x="664.55" y="531.20" width="5.7" height="10.90" fill="#e5e5e5" transform="rotate(240 667.4 591.9)"/>
<rect x="664.55" y="531.20" width="5.7" height="10.90" fill="#e5e5e5" transform="rotate(250 667.4 591.9)"/>
<rect x="664.55" y="531.20" width="5.7" height="10.90" fill="#e5e5e5" transform="rotate(260 667.4 591.9)"/>
<rect x="664.55" y="531.20" width="5.7" height="10.90" fill="#e5e5e5" transform="rotate(270 667.4 591.9)"/>
<rect x="664.55" y="531.20" width="5.7" height="10.90" fill="#e5e5e5" transform="rotate(280 667.4 591.9)"/>
<rect x="664.55" y="531.20" width="5.7" height="10.90" fill="#e5e5e5" transform="rotate(290 667.4 591.9)"/>
<rect x="664.55" y="531.20" width="5.7" height="10.90" fill="#e5e5e5" transform="rotate(300 667.4 591.9)"/>
<rect x="664.55" y="531.20" width="5.7" height="10.90" fill="#e5e5e5" transform="rotate(310 667.4 591.9)"/>
<rect x="664.55" y="531.20" width="5.7" height="10.90" fill="#e5e5e5" transform="rotate(320 667.4 591.9)"/>
<rect x="664.55" y="531.20" width="5.7" height="10.90" fill="#e5e5e5" transform="rotate(330 667.4 591.9)"/>
<rect x="664.55" y="531.20" width="5.7" height="10.90" fill="#e5e5e5" transform="rotate(340 667.4 591.9)"/>
<rect x="664.55" y="531.20" width="5.7" height="10.90" fill="#e5e5e5" transform="rotate(350 667.4 591.9)"/>
<circle cx="667.4" cy="591.9" r="44.8" fill="none" stroke="#e3e3e3" stroke-width="0.9"/>
<path d="M666.62,547.11 A44.8,44.8 0 1 1 658.09,635.72" fill="none" stroke="#f8a81b" stroke-width="0.9"/>
<svg x="627" y="557" width="80" height="70" viewBox="0 0 1080 945" fill="none" stroke="#111" stroke-width="17.5" stroke-linecap="round" stroke-linejoin="round">
<!-- vacuum -->
<path d="M205,495 Q215,360 350,322"/>
<path d="M435,322 Q570,370 570,500 V840"/>
<path d="M205,840 V735 Q215,562 385,562 Q545,562 568,700"/>
<path d="M180,840 H592"/>
<path d="M205,720 Q155,722 155,780 Q155,840 205,840"/>
<path d="M570,720 Q618,725 618,785 Q618,840 570,840"/>
<path d="M332,685H440M332,725H440M332,762H440"/>
<circle cx="383" cy="467" r="21" stroke-width="20"/>
<path d="M350,370 C350,200 480,65 650,65 C830,65 960,200 975,362"/>
<path d="M435,370 C435,240 520,130 650,130 C790,130 895,230 910,362"/>
<path d="M350,370 A42.5,42.5 0 0 0 435,370"/>
<path d="M940,365 H800 L688,470 A38,38 0 0 0 740,524 L830,432 H945 Q978,430 977,395 Q975,365 940,365 Z"/>
</svg>
<rect x="920.45" y="531.20" width="5.7" height="10.90" fill="#f8a81b" transform="rotate(0 923.3 591.9)"/>
<rect x="920.45" y="531.20" width="5.7" height="10.90" fill="#f8a81b" transform="rotate(10 923.3 591.9)"/>
<rect x="920.45" y="531.20" width="5.7" height="10.90" fill="#f8a81b" transform="rotate(20 923.3 591.9)"/>
<rect x="920.45" y="531.20" width="5.7" height="10.90" fill="#f8a81b" transform="rotate(30 923.3 591.9)"/>
<rect x="920.45" y="531.20" width="5.7" height="10.90" fill="#f8a81b" transform="rotate(40 923.3 591.9)"/>
<rect x="920.45" y="531.20" width="5.7" height="10.90" fill="#f8a81b" transform="rotate(50 923.3 591.9)"/>
<rect x="920.45" y="531.20" width="5.7" height="10.90" fill="#f8a81b" transform="rotate(60 923.3 591.9)"/>
<rect x="920.45" y="531.20" width="5.7" height="10.90" fill="#f8a81b" transform="rotate(70 923.3 591.9)"/>
<rect x="920.45" y="531.20" width="5.7" height="10.90" fill="#f8a81b" transform="rotate(80 923.3 591.9)"/>
<rect x="920.45" y="531.20" width="5.7" height="10.90" fill="#f8a81b" transform="rotate(90 923.3 591.9)"/>
<rect x="920.45" y="531.20" width="5.7" height="10.90" fill="#f8a81b" transform="rotate(100 923.3 591.9)"/>
<rect x="920.45" y="531.20" width="5.7" height="10.90" fill="#f8a81b" transform="rotate(110 923.3 591.9)"/>
<rect x="920.45" y="531.20" width="5.7" height="10.90" fill="#f8a81b" transform="rotate(120 923.3 591.9)"/>
<rect x="920.45" y="531.20" width="5.7" height="10.90" fill="#f8a81b" transform="rotate(130 923.3 591.9)"/>
<rect x="920.45" y="531.20" width="5.7" height="10.90" fill="#f8a81b" transform="rotate(140 923.3 591.9)"/>
<rect x="920.45" y="531.20" width="5.7" height="10.90" fill="#f8a81b" transform="rotate(150 923.3 591.9)"/>
<rect x="920.45" y="531.20" width="5.7" height="10.90" fill="#e5e5e5" transform="rotate(160 923.3 591.9)"/>
<rect x="920.45" y="531.20" width="5.7" height="10.90" fill="#e5e5e5" transform="rotate(170 923.3 591.9)"/>
<rect x="920.45" y="531.20" width="5.7" height="10.90" fill="#e5e5e5" transform="rotate(180 923.3 591.9)"/>
<rect x="920.45" y="531.20" width="5.7" height="10.90" fill="#e5e5e5" transform="rotate(190 923.3 591.9)"/>
<rect x="920.45" y="531.20" width="5.7" height="10.90" fill="#e5e5e5" transform="rotate(200 923.3 591.9)"/>
<rect x="920.45" y="531.20" width="5.7" height="10.90" fill="#e5e5e5" transform="rotate(210 923.3 591.9)"/>
<rect x="920.45" y="531.20" width="5.7" height="10.90" fill="#e5e5e5" transform="rotate(220 923.3 591.9)"/>
<rect x="920.45" y="531.20" width="5.7" height="10.90" fill="#e5e5e5" transform="rotate(230 923.3 591.9)"/>
<rect x="920.45" y="531.20" width="5.7" height="10.90" fill="#e5e5e5" transform="rotate(240 923.3 591.9)"/>
<rect x="920.45" y="531.20" width="5.7" height="10.90" fill="#e5e5e5" transform="rotate(250 923.3 591.9)"/>
<rect x="920.45" y="531.20" width="5.7" height="10.90" fill="#e5e5e5" transform="rotate(260 923.3 591.9)"/>
<rect x="920.45" y="531.20" width="5.7" height="10.90" fill="#e5e5e5" transform="rotate(270 923.3 591.9)"/>
<rect x="920.45" y="531.20" width="5.7" height="10.90" fill="#e5e5e5" transform="rotate(280 923.3 591.9)"/>
<rect x="920.45" y="531.20" width="5.7" height="10.90" fill="#e5e5e5" transform="rotate(290 923.3 591.9)"/>
<rect x="920.45" y="531.20" width="5.7" height="10.90" fill="#e5e5e5" transform="rotate(300 923.3 591.9)"/>
<rect x="920.45" y="531.20" width="5.7" height="10.90" fill="#e5e5e5" transform="rotate(310 923.3 591.9)"/>
<rect x="920.45" y="531.20" width="5.7" height="10.90" fill="#e5e5e5" transform="rotate(320 923.3 591.9)"/>
<rect x="920.45" y="531.20" width="5.7" height="10.90" fill="#e5e5e5" transform="rotate(330 923.3 591.9)"/>
<rect x="920.45" y="531.20" width="5.7" height="10.90" fill="#e5e5e5" transform="rotate(340 923.3 591.9)"/>
<rect x="920.45" y="531.20" width="5.7" height="10.90" fill="#e5e5e5" transform="rotate(350 923.3 591.9)"/>
<circle cx="923.3" cy="591.9" r="44.8" fill="none" stroke="#e3e3e3" stroke-width="0.9"/>
<path d="M922.52,547.11 A44.8,44.8 0 0 1 944.33,631.46" fill="none" stroke="#f8a81b" stroke-width="0.9"/>
<svg x="882" y="557" width="80" height="70" viewBox="0 0 1080 945" fill="none" stroke="#111" stroke-width="17.5" stroke-linecap="round" stroke-linejoin="round">
<!-- oven -->
<g stroke-linejoin="miter" stroke-linecap="butt" stroke-width="18">
<rect x="238" y="112" width="637" height="726"/>
<path d="M238,250H875"/>
<rect x="365" y="440" width="385" height="250"/>
<path d="M365,640H750"/>
</g>
<circle cx="495" cy="183" r="26" stroke-width="20"/><circle cx="617" cy="183" r="26" stroke-width="20"/>
<path d="M318,345H802" stroke-width="18"/>
</svg>
<rect x="154.55" y="768.80" width="5.7" height="10.90" fill="#f8a81b" transform="rotate(0 157.4 829.5)"/>
<rect x="154.55" y="768.80" width="5.7" height="10.90" fill="#f8a81b" transform="rotate(10 157.4 829.5)"/>
<rect x="154.55" y="768.80" width="5.7" height="10.90" fill="#f8a81b" transform="rotate(20 157.4 829.5)"/>
<rect x="154.55" y="768.80" width="5.7" height="10.90" fill="#f8a81b" transform="rotate(30 157.4 829.5)"/>
<rect x="154.55" y="768.80" width="5.7" height="10.90" fill="#f8a81b" transform="rotate(40 157.4 829.5)"/>
<rect x="154.55" y="768.80" width="5.7" height="10.90" fill="#f8a81b" transform="rotate(50 157.4 829.5)"/>
<rect x="154.55" y="768.80" width="5.7" height="10.90" fill="#f8a81b" transform="rotate(60 157.4 829.5)"/>
<rect x="154.55" y="768.80" width="5.7" height="10.90" fill="#f8a81b" transform="rotate(70 157.4 829.5)"/>
<rect x="154.55" y="768.80" width="5.7" height="10.90" fill="#f8a81b" transform="rotate(80 157.4 829.5)"/>
<rect x="154.55" y="768.80" width="5.7" height="10.90" fill="#f8a81b" transform="rotate(90 157.4 829.5)"/>
<rect x="154.55" y="768.80" width="5.7" height="10.90" fill="#f8a81b" transform="rotate(100 157.4 829.5)"/>
<rect x="154.55" y="768.80" width="5.7" height="10.90" fill="#f8a81b" transform="rotate(110 157.4 829.5)"/>
<rect x="154.55" y="768.80" width="5.7" height="10.90" fill="#f8a81b" transform="rotate(120 157.4 829.5)"/>
<rect x="154.55" y="768.80" width="5.7" height="10.90" fill="#f8a81b" transform="rotate(130 157.4 829.5)"/>
<rect x="154.55" y="768.80" width="5.7" height="10.90" fill="#f8a81b" transform="rotate(140 157.4 829.5)"/>
<rect x="154.55" y="768.80" width="5.7" height="10.90" fill="#e5e5e5" transform="rotate(150 157.4 829.5)"/>
<rect x="154.55" y="768.80" width="5.7" height="10.90" fill="#e5e5e5" transform="rotate(160 157.4 829.5)"/>
<rect x="154.55" y="768.80" width="5.7" height="10.90" fill="#e5e5e5" transform="rotate(170 157.4 829.5)"/>
<rect x="154.55" y="768.80" width="5.7" height="10.90" fill="#e5e5e5" transform="rotate(180 157.4 829.5)"/>
<rect x="154.55" y="768.80" width="5.7" height="10.90" fill="#e5e5e5" transform="rotate(190 157.4 829.5)"/>
<rect x="154.55" y="768.80" width="5.7" height="10.90" fill="#e5e5e5" transform="rotate(200 157.4 829.5)"/>
<rect x="154.55" y="768.80" width="5.7" height="10.90" fill="#e5e5e5" transform="rotate(210 157.4 829.5)"/>
<rect x="154.55" y="768.80" width="5.7" height="10.90" fill="#e5e5e5" transform="rotate(220 157.4 829.5)"/>
<rect x="154.55" y="768.80" width="5.7" height="10.90" fill="#e5e5e5" transform="rotate(230 157.4 829.5)"/>
<rect x="154.55" y="768.80" width="5.7" height="10.90" fill="#e5e5e5" transform="rotate(240 157.4 829.5)"/>
<rect x="154.55" y="768.80" width="5.7" height="10.90" fill="#e5e5e5" transform="rotate(250 157.4 829.5)"/>
<rect x="154.55" y="768.80" width="5.7" height="10.90" fill="#e5e5e5" transform="rotate(260 157.4 829.5)"/>
<rect x="154.55" y="768.80" width="5.7" height="10.90" fill="#e5e5e5" transform="rotate(270 157.4 829.5)"/>
<rect x="154.55" y="768.80" width="5.7" height="10.90" fill="#e5e5e5" transform="rotate(280 157.4 829.5)"/>
<rect x="154.55" y="768.80" width="5.7" height="10.90" fill="#e5e5e5" transform="rotate(290 157.4 829.5)"/>
<rect x="154.55" y="768.80" width="5.7" height="10.90" fill="#e5e5e5" transform="rotate(300 157.4 829.5)"/>
<rect x="154.55" y="768.80" width="5.7" height="10.90" fill="#e5e5e5" transform="rotate(310 157.4 829.5)"/>
<rect x="154.55" y="768.80" width="5.7" height="10.90" fill="#e5e5e5" transform="rotate(320 157.4 829.5)"/>
<rect x="154.55" y="768.80" width="5.7" height="10.90" fill="#e5e5e5" transform="rotate(330 157.4 829.5)"/>
<rect x="154.55" y="768.80" width="5.7" height="10.90" fill="#e5e5e5" transform="rotate(340 157.4 829.5)"/>
<rect x="154.55" y="768.80" width="5.7" height="10.90" fill="#e5e5e5" transform="rotate(350 157.4 829.5)"/>
<circle cx="157.4" cy="829.5" r="44.8" fill="none" stroke="#e3e3e3" stroke-width="0.9"/>
<path d="M156.62,784.71 A44.8,44.8 0 0 1 184.98,864.80" fill="none" stroke="#f8a81b" stroke-width="0.9"/>
<svg x="118" y="793" width="80" height="70" viewBox="0 0 1080 945" fill="none" stroke="#111" stroke-width="17.5" stroke-linecap="round" stroke-linejoin="round">
<!-- coffee -->
<g stroke-linejoin="miter" stroke-width="18">
<rect x="185" y="145" width="695" height="210"/>
<rect x="185" y="790" width="695" height="58"/>
<path d="M240,355V790M822,355V790"/>
<rect x="455" y="365" width="155" height="85"/>
</g>
<path d="M272,218H398M272,282H398M668,218H793M668,282H793" stroke-width="18"/>
<circle cx="532" cy="250" r="65"/>
<path d="M490,455 V480 Q495,515 532,515 Q570,515 575,480 V455"/>
<path d="M612,405 H730 V470"/>
<circle cx="732" cy="483" r="17" fill="#111" stroke="none"/>
<path d="M412,572 H650 L620,735 Q615,758 590,758 H470 Q445,758 440,735 Z"/>
<path d="M655,602 H712 L700,662 H642"/>
</svg>
<rect x="409.55" y="766.50" width="5.7" height="10.90" fill="#f8a81b" transform="rotate(0 412.4 827.2)"/>
<rect x="409.55" y="766.50" width="5.7" height="10.90" fill="#f8a81b" transform="rotate(10 412.4 827.2)"/>
<rect x="409.55" y="766.50" width="5.7" height="10.90" fill="#f8a81b" transform="rotate(20 412.4 827.2)"/>
<rect x="409.55" y="766.50" width="5.7" height="10.90" fill="#f8a81b" transform="rotate(30 412.4 827.2)"/>
<rect x="409.55" y="766.50" width="5.7" height="10.90" fill="#f8a81b" transform="rotate(40 412.4 827.2)"/>
<rect x="409.55" y="766.50" width="5.7" height="10.90" fill="#f8a81b" transform="rotate(50 412.4 827.2)"/>
<rect x="409.55" y="766.50" width="5.7" height="10.90" fill="#f8a81b" transform="rotate(60 412.4 827.2)"/>
<rect x="409.55" y="766.50" width="5.7" height="10.90" fill="#f8a81b" transform="rotate(70 412.4 827.2)"/>
<rect x="409.55" y="766.50" width="5.7" height="10.90" fill="#e5e5e5" transform="rotate(80 412.4 827.2)"/>
<rect x="409.55" y="766.50" width="5.7" height="10.90" fill="#e5e5e5" transform="rotate(90 412.4 827.2)"/>
<rect x="409.55" y="766.50" width="5.7" height="10.90" fill="#e5e5e5" transform="rotate(100 412.4 827.2)"/>
<rect x="409.55" y="766.50" width="5.7" height="10.90" fill="#e5e5e5" transform="rotate(110 412.4 827.2)"/>
<rect x="409.55" y="766.50" width="5.7" height="10.90" fill="#e5e5e5" transform="rotate(120 412.4 827.2)"/>
<rect x="409.55" y="766.50" width="5.7" height="10.90" fill="#e5e5e5" transform="rotate(130 412.4 827.2)"/>
<rect x="409.55" y="766.50" width="5.7" height="10.90" fill="#e5e5e5" transform="rotate(140 412.4 827.2)"/>
<rect x="409.55" y="766.50" width="5.7" height="10.90" fill="#e5e5e5" transform="rotate(150 412.4 827.2)"/>
<rect x="409.55" y="766.50" width="5.7" height="10.90" fill="#e5e5e5" transform="rotate(160 412.4 827.2)"/>
<rect x="409.55" y="766.50" width="5.7" height="10.90" fill="#e5e5e5" transform="rotate(170 412.4 827.2)"/>
<rect x="409.55" y="766.50" width="5.7" height="10.90" fill="#e5e5e5" transform="rotate(180 412.4 827.2)"/>
<rect x="409.55" y="766.50" width="5.7" height="10.90" fill="#e5e5e5" transform="rotate(190 412.4 827.2)"/>
<rect x="409.55" y="766.50" width="5.7" height="10.90" fill="#e5e5e5" transform="rotate(200 412.4 827.2)"/>
<rect x="409.55" y="766.50" width="5.7" height="10.90" fill="#e5e5e5" transform="rotate(210 412.4 827.2)"/>
<rect x="409.55" y="766.50" width="5.7" height="10.90" fill="#e5e5e5" transform="rotate(220 412.4 827.2)"/>
<rect x="409.55" y="766.50" width="5.7" height="10.90" fill="#e5e5e5" transform="rotate(230 412.4 827.2)"/>
<rect x="409.55" y="766.50" width="5.7" height="10.90" fill="#e5e5e5" transform="rotate(240 412.4 827.2)"/>
<rect x="409.55" y="766.50" width="5.7" height="10.90" fill="#e5e5e5" transform="rotate(250 412.4 827.2)"/>
<rect x="409.55" y="766.50" width="5.7" height="10.90" fill="#e5e5e5" transform="rotate(260 412.4 827.2)"/>
<rect x="409.55" y="766.50" width="5.7" height="10.90" fill="#e5e5e5" transform="rotate(270 412.4 827.2)"/>
<rect x="409.55" y="766.50" width="5.7" height="10.90" fill="#e5e5e5" transform="rotate(280 412.4 827.2)"/>
<rect x="409.55" y="766.50" width="5.7" height="10.90" fill="#e5e5e5" transform="rotate(290 412.4 827.2)"/>
<rect x="409.55" y="766.50" width="5.7" height="10.90" fill="#e5e5e5" transform="rotate(300 412.4 827.2)"/>
<rect x="409.55" y="766.50" width="5.7" height="10.90" fill="#e5e5e5" transform="rotate(310 412.4 827.2)"/>
<rect x="409.55" y="766.50" width="5.7" height="10.90" fill="#e5e5e5" transform="rotate(320 412.4 827.2)"/>
<rect x="409.55" y="766.50" width="5.7" height="10.90" fill="#e5e5e5" transform="rotate(330 412.4 827.2)"/>
<rect x="409.55" y="766.50" width="5.7" height="10.90" fill="#e5e5e5" transform="rotate(340 412.4 827.2)"/>
<rect x="409.55" y="766.50" width="5.7" height="10.90" fill="#e5e5e5" transform="rotate(350 412.4 827.2)"/>
<circle cx="412.4" cy="827.2" r="44.8" fill="none" stroke="#e3e3e3" stroke-width="0.9"/>
<path d="M411.62,782.41 A44.8,44.8 0 0 1 455.01,813.36" fill="none" stroke="#f8a81b" stroke-width="0.9"/>
<svg x="372" y="793" width="80" height="70" viewBox="0 0 1080 945" fill="none" stroke="#111" stroke-width="17.5" stroke-linecap="round" stroke-linejoin="round">
<!-- microwave -->
<g stroke-linejoin="miter" stroke-width="18">
<rect x="145" y="165" width="805" height="535"/>
<path d="M730,165V700" stroke-width="24" stroke-linecap="butt"/>
<rect x="170" y="705" width="120" height="67"/>
<rect x="805" y="705" width="120" height="67"/>
</g>
<rect x="212" y="250" width="448" height="370" rx="32"/>
<path d="M352,422L410,370M370,500L500,372M465,500L520,450"/>
<circle cx="848" cy="303" r="50"/><circle cx="845" cy="478" r="52"/>
<path d="M815,270L885,335M812,445L880,510"/>
<path d="M808,607H880"/>
</svg>
<rect x="664.55" y="766.50" width="5.7" height="10.90" fill="#f8a81b" transform="rotate(0 667.4 827.2)"/>
<rect x="664.55" y="766.50" width="5.7" height="10.90" fill="#f8a81b" transform="rotate(10 667.4 827.2)"/>
<rect x="664.55" y="766.50" width="5.7" height="10.90" fill="#f8a81b" transform="rotate(20 667.4 827.2)"/>
<rect x="664.55" y="766.50" width="5.7" height="10.90" fill="#f8a81b" transform="rotate(30 667.4 827.2)"/>
<rect x="664.55" y="766.50" width="5.7" height="10.90" fill="#f8a81b" transform="rotate(40 667.4 827.2)"/>
<rect x="664.55" y="766.50" width="5.7" height="10.90" fill="#f8a81b" transform="rotate(50 667.4 827.2)"/>
<rect x="664.55" y="766.50" width="5.7" height="10.90" fill="#f8a81b" transform="rotate(60 667.4 827.2)"/>
<rect x="664.55" y="766.50" width="5.7" height="10.90" fill="#e5e5e5" transform="rotate(70 667.4 827.2)"/>
<rect x="664.55" y="766.50" width="5.7" height="10.90" fill="#e5e5e5" transform="rotate(80 667.4 827.2)"/>
<rect x="664.55" y="766.50" width="5.7" height="10.90" fill="#e5e5e5" transform="rotate(90 667.4 827.2)"/>
<rect x="664.55" y="766.50" width="5.7" height="10.90" fill="#e5e5e5" transform="rotate(100 667.4 827.2)"/>
<rect x="664.55" y="766.50" width="5.7" height="10.90" fill="#e5e5e5" transform="rotate(110 667.4 827.2)"/>
<rect x="664.55" y="766.50" width="5.7" height="10.90" fill="#e5e5e5" transform="rotate(120 667.4 827.2)"/>
<rect x="664.55" y="766.50" width="5.7" height="10.90" fill="#e5e5e5" transform="rotate(130 667.4 827.2)"/>
<rect x="664.55" y="766.50" width="5.7" height="10.90" fill="#e5e5e5" transform="rotate(140 667.4 827.2)"/>
<rect x="664.55" y="766.50" width="5.7" height="10.90" fill="#e5e5e5" transform="rotate(150 667.4 827.2)"/>
<rect x="664.55" y="766.50" width="5.7" height="10.90" fill="#e5e5e5" transform="rotate(160 667.4 827.2)"/>
<rect x="664.55" y="766.50" width="5.7" height="10.90" fill="#e5e5e5" transform="rotate(170 667.4 827.2)"/>
<rect x="664.55" y="766.50" width="5.7" height="10.90" fill="#e5e5e5" transform="rotate(180 667.4 827.2)"/>
<rect x="664.55" y="766.50" width="5.7" height="10.90" fill="#e5e5e5" transform="rotate(190 667.4 827.2)"/>
<rect x="664.55" y="766.50" width="5.7" height="10.90" fill="#e5e5e5" transform="rotate(200 667.4 827.2)"/>
<rect x="664.55" y="766.50" width="5.7" height="10.90" fill="#e5e5e5" transform="rotate(210 667.4 827.2)"/>
<rect x="664.55" y="766.50" width="5.7" height="10.90" fill="#e5e5e5" transform="rotate(220 667.4 827.2)"/>
<rect x="664.55" y="766.50" width="5.7" height="10.90" fill="#e5e5e5" transform="rotate(230 667.4 827.2)"/>
<rect x="664.55" y="766.50" width="5.7" height="10.90" fill="#e5e5e5" transform="rotate(240 667.4 827.2)"/>
<rect x="664.55" y="766.50" width="5.7" height="10.90" fill="#e5e5e5" transform="rotate(250 667.4 827.2)"/>
<rect x="664.55" y="766.50" width="5.7" height="10.90" fill="#e5e5e5" transform="rotate(260 667.4 827.2)"/>
<rect x="664.55" y="766.50" width="5.7" height="10.90" fill="#e5e5e5" transform="rotate(270 667.4 827.2)"/>
<rect x="664.55" y="766.50" width="5.7" height="10.90" fill="#e5e5e5" transform="rotate(280 667.4 827.2)"/>
<rect x="664.55" y="766.50" width="5.7" height="10.90" fill="#e5e5e5" transform="rotate(290 667.4 827.2)"/>
<rect x="664.55" y="766.50" width="5.7" height="10.90" fill="#e5e5e5" transform="rotate(300 667.4 827.2)"/>
<rect x="664.55" y="766.50" width="5.7" height="10.90" fill="#e5e5e5" transform="rotate(310 667.4 827.2)"/>
<rect x="664.55" y="766.50" width="5.7" height="10.90" fill="#e5e5e5" transform="rotate(320 667.4 827.2)"/>
<rect x="664.55" y="766.50" width="5.7" height="10.90" fill="#e5e5e5" transform="rotate(330 667.4 827.2)"/>
<rect x="664.55" y="766.50" width="5.7" height="10.90" fill="#e5e5e5" transform="rotate(340 667.4 827.2)"/>
<rect x="664.55" y="766.50" width="5.7" height="10.90" fill="#e5e5e5" transform="rotate(350 667.4 827.2)"/>
<circle cx="667.4" cy="827.2" r="44.8" fill="none" stroke="#e3e3e3" stroke-width="0.9"/>
<path d="M666.62,782.41 A44.8,44.8 0 0 1 706.96,806.17" fill="none" stroke="#f8a81b" stroke-width="0.9"/>
<svg x="627" y="793" width="80" height="70" viewBox="0 0 1080 945" fill="none" stroke="#111" stroke-width="17.5" stroke-linecap="round" stroke-linejoin="round">
<!-- washer -->
<path d="M265,115 H828 V770 Q828,820 778,820 H315 Q265,820 265,770 Z" stroke-linejoin="miter"/>
<path d="M265,262H828"/>
<rect x="305" y="165" width="143" height="45" rx="5"/>
<circle cx="545" cy="188" r="55"/>
<path d="M652,165H790M652,212H790"/>
<circle cx="547" cy="540" r="213"/><circle cx="547" cy="540" r="160"/>
<path d="M398,590 Q440,600 475,580 Q505,565 540,595 Q560,605 590,580 Q620,565 650,585 Q680,597 702,585"/>
</svg>
<rect x="919.55" y="766.50" width="5.7" height="10.90" fill="#f8a81b" transform="rotate(0 922.4 827.2)"/>
<rect x="919.55" y="766.50" width="5.7" height="10.90" fill="#f8a81b" transform="rotate(10 922.4 827.2)"/>
<rect x="919.55" y="766.50" width="5.7" height="10.90" fill="#f8a81b" transform="rotate(20 922.4 827.2)"/>
<rect x="919.55" y="766.50" width="5.7" height="10.90" fill="#f8a81b" transform="rotate(30 922.4 827.2)"/>
<rect x="919.55" y="766.50" width="5.7" height="10.90" fill="#f8a81b" transform="rotate(40 922.4 827.2)"/>
<rect x="919.55" y="766.50" width="5.7" height="10.90" fill="#f8a81b" transform="rotate(50 922.4 827.2)"/>
<rect x="919.55" y="766.50" width="5.7" height="10.90" fill="#f8a81b" transform="rotate(60 922.4 827.2)"/>
<rect x="919.55" y="766.50" width="5.7" height="10.90" fill="#e5e5e5" transform="rotate(70 922.4 827.2)"/>
<rect x="919.55" y="766.50" width="5.7" height="10.90" fill="#e5e5e5" transform="rotate(80 922.4 827.2)"/>
<rect x="919.55" y="766.50" width="5.7" height="10.90" fill="#e5e5e5" transform="rotate(90 922.4 827.2)"/>
<rect x="919.55" y="766.50" width="5.7" height="10.90" fill="#e5e5e5" transform="rotate(100 922.4 827.2)"/>
<rect x="919.55" y="766.50" width="5.7" height="10.90" fill="#e5e5e5" transform="rotate(110 922.4 827.2)"/>
<rect x="919.55" y="766.50" width="5.7" height="10.90" fill="#e5e5e5" transform="rotate(120 922.4 827.2)"/>
<rect x="919.55" y="766.50" width="5.7" height="10.90" fill="#e5e5e5" transform="rotate(130 922.4 827.2)"/>
<rect x="919.55" y="766.50" width="5.7" height="10.90" fill="#e5e5e5" transform="rotate(140 922.4 827.2)"/>
<rect x="919.55" y="766.50" width="5.7" height="10.90" fill="#e5e5e5" transform="rotate(150 922.4 827.2)"/>
<rect x="919.55" y="766.50" width="5.7" height="10.90" fill="#e5e5e5" transform="rotate(160 922.4 827.2)"/>
<rect x="919.55" y="766.50" width="5.7" height="10.90" fill="#e5e5e5" transform="rotate(170 922.4 827.2)"/>
<rect x="919.55" y="766.50" width="5.7" height="10.90" fill="#e5e5e5" transform="rotate(180 922.4 827.2)"/>
<rect x="919.55" y="766.50" width="5.7" height="10.90" fill="#e5e5e5" transform="rotate(190 922.4 827.2)"/>
<rect x="919.55" y="766.50" width="5.7" height="10.90" fill="#e5e5e5" transform="rotate(200 922.4 827.2)"/>
<rect x="919.55" y="766.50" width="5.7" height="10.90" fill="#e5e5e5" transform="rotate(210 922.4 827.2)"/>
<rect x="919.55" y="766.50" width="5.7" height="10.90" fill="#e5e5e5" transform="rotate(220 922.4 827.2)"/>
<rect x="919.55" y="766.50" width="5.7" height="10.90" fill="#e5e5e5" transform="rotate(230 922.4 827.2)"/>
<rect x="919.55" y="766.50" width="5.7" height="10.90" fill="#e5e5e5" transform="rotate(240 922.4 827.2)"/>
<rect x="919.55" y="766.50" width="5.7" height="10.90" fill="#e5e5e5" transform="rotate(250 922.4 827.2)"/>
<rect x="919.55" y="766.50" width="5.7" height="10.90" fill="#e5e5e5" transform="rotate(260 922.4 827.2)"/>
<rect x="919.55" y="766.50" width="5.7" height="10.90" fill="#e5e5e5" transform="rotate(270 922.4 827.2)"/>
<rect x="919.55" y="766.50" width="5.7" height="10.90" fill="#e5e5e5" transform="rotate(280 922.4 827.2)"/>
<rect x="919.55" y="766.50" width="5.7" height="10.90" fill="#e5e5e5" transform="rotate(290 922.4 827.2)"/>
<rect x="919.55" y="766.50" width="5.7" height="10.90" fill="#e5e5e5" transform="rotate(300 922.4 827.2)"/>
<rect x="919.55" y="766.50" width="5.7" height="10.90" fill="#e5e5e5" transform="rotate(310 922.4 827.2)"/>
<rect x="919.55" y="766.50" width="5.7" height="10.90" fill="#e5e5e5" transform="rotate(320 922.4 827.2)"/>
<rect x="919.55" y="766.50" width="5.7" height="10.90" fill="#e5e5e5" transform="rotate(330 922.4 827.2)"/>
<rect x="919.55" y="766.50" width="5.7" height="10.90" fill="#e5e5e5" transform="rotate(340 922.4 827.2)"/>
<rect x="919.55" y="766.50" width="5.7" height="10.90" fill="#e5e5e5" transform="rotate(350 922.4 827.2)"/>
<circle cx="922.4" cy="827.2" r="44.8" fill="none" stroke="#e3e3e3" stroke-width="0.9"/>
<path d="M921.62,782.41 A44.8,44.8 0 0 1 961.96,806.17" fill="none" stroke="#f8a81b" stroke-width="0.9"/>
<svg x="882" y="793" width="80" height="70" viewBox="0 0 1080 945" fill="none" stroke="#111" stroke-width="17.5" stroke-linecap="round" stroke-linejoin="round">
<!-- ac -->
<path d="M128,518 V225 Q128,168 185,168 H890 Q945,168 945,225 V452"/>
<path d="M128,518 H640"/>
<path d="M185,172 V200 Q185,240 225,240 H845 Q885,240 885,200 V172"/>
<path d="M508,365H562" stroke-width="22"/>
<path d="M185,515 V450 Q185,410 225,410 H745"/>
<path d="M198,458H580" stroke-width="19"/>
<path d="M255,565 Q240,665 125,670M400,565 Q390,640 338,670M535,560V670"/>
<path d="M822,298 Q725,400 752,480 Q785,540 822,522 Q870,535 897,470 Q915,390 822,298 Z"/>
<path d="M822,310V660"/>
<path d="M630,478 Q720,440 780,520 Q800,560 790,592 Q700,610 650,530 Q635,500 630,478 Z"/>
<path d="M650,490 Q730,520 790,590"/>
<path d="M1020,468 Q930,440 880,520 Q862,560 868,592 Q960,600 1000,530 Q1015,500 1020,468 Z"/>
<path d="M1000,482 Q930,520 870,590"/>
<path d="M800,540 Q785,590 822,640 Q858,590 845,540"/>
<path d="M745,668 H905 L885,820 H765 Z" stroke-linejoin="miter"/>
</svg>
<circle cx="67.4" cy="1012.4" r="17.4" fill="#000"/>
<svg x="40" y="985" width="80" height="55" viewBox="0 0 1080 742"><path d="M215,380 L485,270 L440,495 L335,425 L410,340 L290,410 Z" fill="#fff"/></svg>
<svg x="850" y="960" width="90" height="80" viewBox="0 0 1080 960"><path d="M245,120 L140,295 Q320,410 470,450 Q445,520 445,600 V830 H648 V600 Q650,480 760,410 L960,295 L850,120 L680,225 Q550,290 420,225 Z" fill="#f8a81b"/></svg>
<rect x="970.5" y="970.5" width="59" height="59" fill="none" stroke="#000" stroke-width="1.1"/>
<rect x="980" y="1000.6" width="40" height="1.5" fill="#8e3c8e"/>
</svg>
<div class="t h1" style="top:40.5px;color:#f8a81b"><span style="letter-spacing:3.3px">НАЙБІЛЬШ</span><span style="letter-spacing:3.9px"> </span><span style="letter-spacing:0.73px">ЗАТРАТНІ</span></div>
<div class="t h1" style="top:100.5px;color:#000;letter-spacing:2.75px">ЕЛЕКТРОПРИЛАДИ</div>
<div class="t sub">Споживання електроенергії, кВт<span style="font-size:19.5px;position:relative;top:0.5px;letter-spacing:1.6px;margin-left:0.6px">•</span>год</div>
<div class="lb" style="left:37.69999999999999px;top:245.5px"><span style="letter-spacing:0.95px;margin-right:-0.95px">Електрична</span><br><span style="letter-spacing:1.23px;margin-right:-1.23px">плита</span></div>
<div class="v" style="left:97.69999999999999px;top:421.3px"><i>~</i>3,5</div>
<div class="lb" style="left:292.4px;top:245.5px"><span style="letter-spacing:0.72px;margin-right:-0.72px">Праска</span></div>
<div class="v" style="left:352.4px;top:421.3px"><i>~</i>2,2</div>
<div class="lb" style="left:547.7px;top:245.5px"><span style="letter-spacing:2.11px;margin-right:-2.11px">Фен</span></div>
<div class="v" style="left:607.7px;top:421.3px"><i>~</i>2,2</div>
<div class="lb" style="left:802.8px;top:245.5px"><span style="letter-spacing:1.08px;margin-right:-1.08px">Електрочайник</span></div>
<div class="v" style="left:862.8px;top:421.3px"><i>~</i>2,2</div>
<div class="lb" style="left:37.69999999999999px;top:482.5px"><span style="letter-spacing:1.34px;margin-right:-1.34px">Обігрівач</span></div>
<div class="v" style="left:97.69999999999999px;top:658.0px"><i>~</i>2,0</div>
<div class="lb" style="left:292.4px;top:482.5px"><span style="letter-spacing:1.47px;margin-right:-1.47px">Бойлер</span></div>
<div class="v" style="left:352.4px;top:658.0px"><i>~</i>2,0</div>
<div class="lb" style="left:547.7px;top:482.5px"><span style="letter-spacing:1.22px;margin-right:-1.22px">Пилосос</span></div>
<div class="v" style="left:607.7px;top:658.0px"><i>~</i>2,0</div>
<div class="lb" style="left:802.8px;top:482.5px"><span style="letter-spacing:0.95px;margin-right:-0.95px">Електрична</span><br><span style="letter-spacing:1.31px;margin-right:-1.31px">духова піч</span></div>
<div class="v" style="left:862.8px;top:658.0px"><i>~</i>1,6</div>
<div class="lb" style="left:37.69999999999999px;top:719.5px"><span style="letter-spacing:1.59px;margin-right:-1.59px">Кавова</span><br><span style="letter-spacing:0.96px;margin-right:-0.96px">машина</span></div>
<div class="v" style="left:97.69999999999999px;top:895.1px"><i>~</i>1,5</div>
<div class="lb" style="left:292.4px;top:719.5px"><span style="letter-spacing:1.04px;margin-right:-1.04px">Мікрохвильова</span><br><span style="letter-spacing:2.67px;margin-right:-2.67px">піч</span></div>
<div class="v" style="left:352.4px;top:895.1px"><i>~</i>0,8</div>
<div class="lb" style="left:547.7px;top:719.5px"><span style="letter-spacing:1.15px;margin-right:-1.15px">Пральна</span><br><span style="letter-spacing:0.96px;margin-right:-0.96px">машина</span></div>
<div class="v" style="left:607.7px;top:895.1px"><i>~</i>0,7</div>
<div class="lb" style="left:802.8px;top:719.5px"><span style="letter-spacing:1.34px;margin-right:-1.34px">Кондиціонер</span></div>
<div class="v" style="left:862.8px;top:895.1px"><i>~</i>0,7</div>
<div class="t src">Джерела: YASNO, Державна інспекція енергетичного нагляду</div>
<div class="t tg">t.me/uawarinfographics</div>
<div class="t ya">Yasno</div>
<div class="tl" style="top:977px;font-size:20px">TOP</div>
<div class="tl" style="top:1007px;font-size:16px;transform:scaleX(0.925)">LEAD</div>
</body></html>
